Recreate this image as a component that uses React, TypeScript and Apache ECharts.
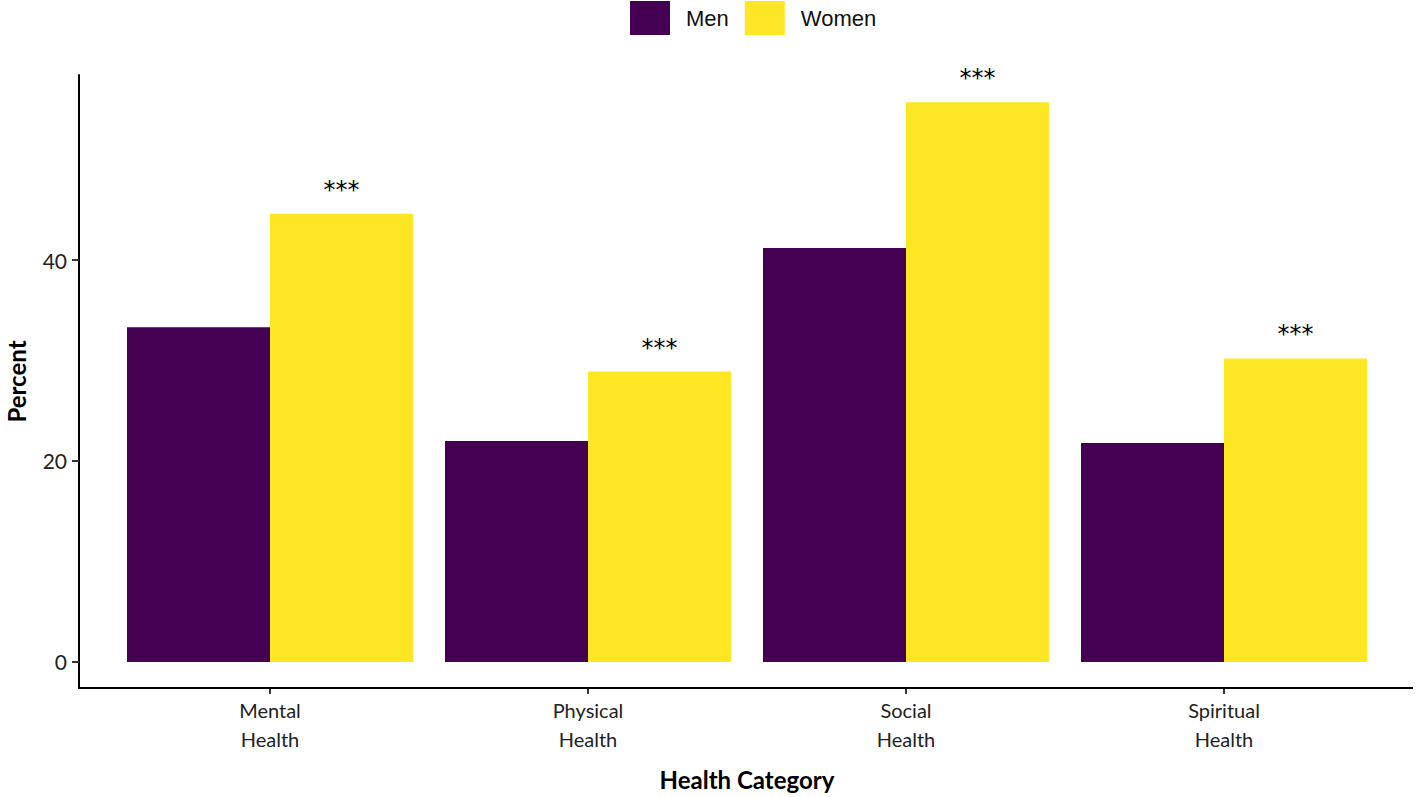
import React, { useEffect, useRef } from "react";
import * as echarts from "echarts";

const categories = ["Mental\nHealth", "Physical\nHealth", "Social\nHealth", "Spiritual\nHealth"];
const menValues = [33.3, 22.0, 41.2, 21.8];
const womenValues = [44.6, 28.9, 55.7, 30.2];
const significance = ["***", "***", "***", "***"];
const yTicks = [0, 20, 40];

export default function App() {
  const ref = useRef<HTMLDivElement>(null);
  useEffect(() => {
    if (!ref.current) return;
    const chart = echarts.init(ref.current, null, { renderer: "svg" });
    const font = "Lato, 'Open Sans', sans-serif";
    chart.setOption({
      animation: false,
      backgroundColor: "#ffffff",
      legend: {
        top: 1,
        left: 630,
        padding: 0,
        itemWidth: 40,
        itemHeight: 34,
        itemGap: 16,
        icon: "rect",
        textStyle: { fontFamily: "'Liberation Sans', Arial, sans-serif", fontSize: 22, color: "#111", padding: [0, 0, 0, 11] },
        data: ["Men", "Women"],
      },
      grid: { left: 111, right: 33, top: 75, bottom: 109, outerBoundsMode: "none", containLabel: false },
      xAxis: {
        type: "category",
        data: categories,
        name: "Health Category",
        nameLocation: "middle",
        nameGap: 79,
        nameTextStyle: { fontFamily: font, fontSize: 24, fontWeight: "bold", color: "#000" },
        axisLine: { show: false, onZero: false },
        axisTick: { show: true, alignWithLabel: true, length: 6, lineStyle: { color: "#333", width: 2 } },
        axisLabel: { fontFamily: font, fontSize: 20, color: "#222", lineHeight: 29, margin: 7 },
      },
      yAxis: {
        type: "value",
        min: -2.59,
        max: 58.41,
        offset: 32,
        name: "Percent",
        nameLocation: "middle",
        nameGap: 51,
        nameTextStyle: { fontFamily: font, fontSize: 24, fontWeight: "bold", color: "#000" },
        axisLine: { show: true, lineStyle: { color: "#000", width: 2 } },
        axisTick: { show: true, length: 7, customValues: yTicks, lineStyle: { color: "#333", width: 2 } },
        axisLabel: { fontFamily: font, fontSize: 21, color: "#222", margin: 12, customValues: yTicks },
        splitLine: { show: false },
      },
      graphic: [
        {
          type: "line",
          shape: { x1: 78, y1: 688, x2: 1413, y2: 688 },
          style: { stroke: "#000", lineWidth: 2 },
          z: 10,
        },
      ],
      series: [
        {
          name: "Men",
          type: "bar",
          data: menValues,
          barWidth: 143,
          barGap: "0%",
          itemStyle: { color: "#440154" },
        },
        {
          name: "Women",
          type: "bar",
          data: womenValues,
          barWidth: 143,
          barGap: "0%",
          itemStyle: { color: "#FDE725" },
          label: {
            show: true,
            position: "top",
            distance: 12,
            formatter: (p: any) => significance[p.dataIndex],
            fontFamily: "'DejaVu Sans', sans-serif",
            fontSize: 24,
            color: "#000",
          },
        },
      ],
    });
    return () => chart.dispose();
  }, []);
  return <div ref={ref} style={{ width: 1416, height: 797, position: "absolute", left: 0, top: 0 }} />;
}
